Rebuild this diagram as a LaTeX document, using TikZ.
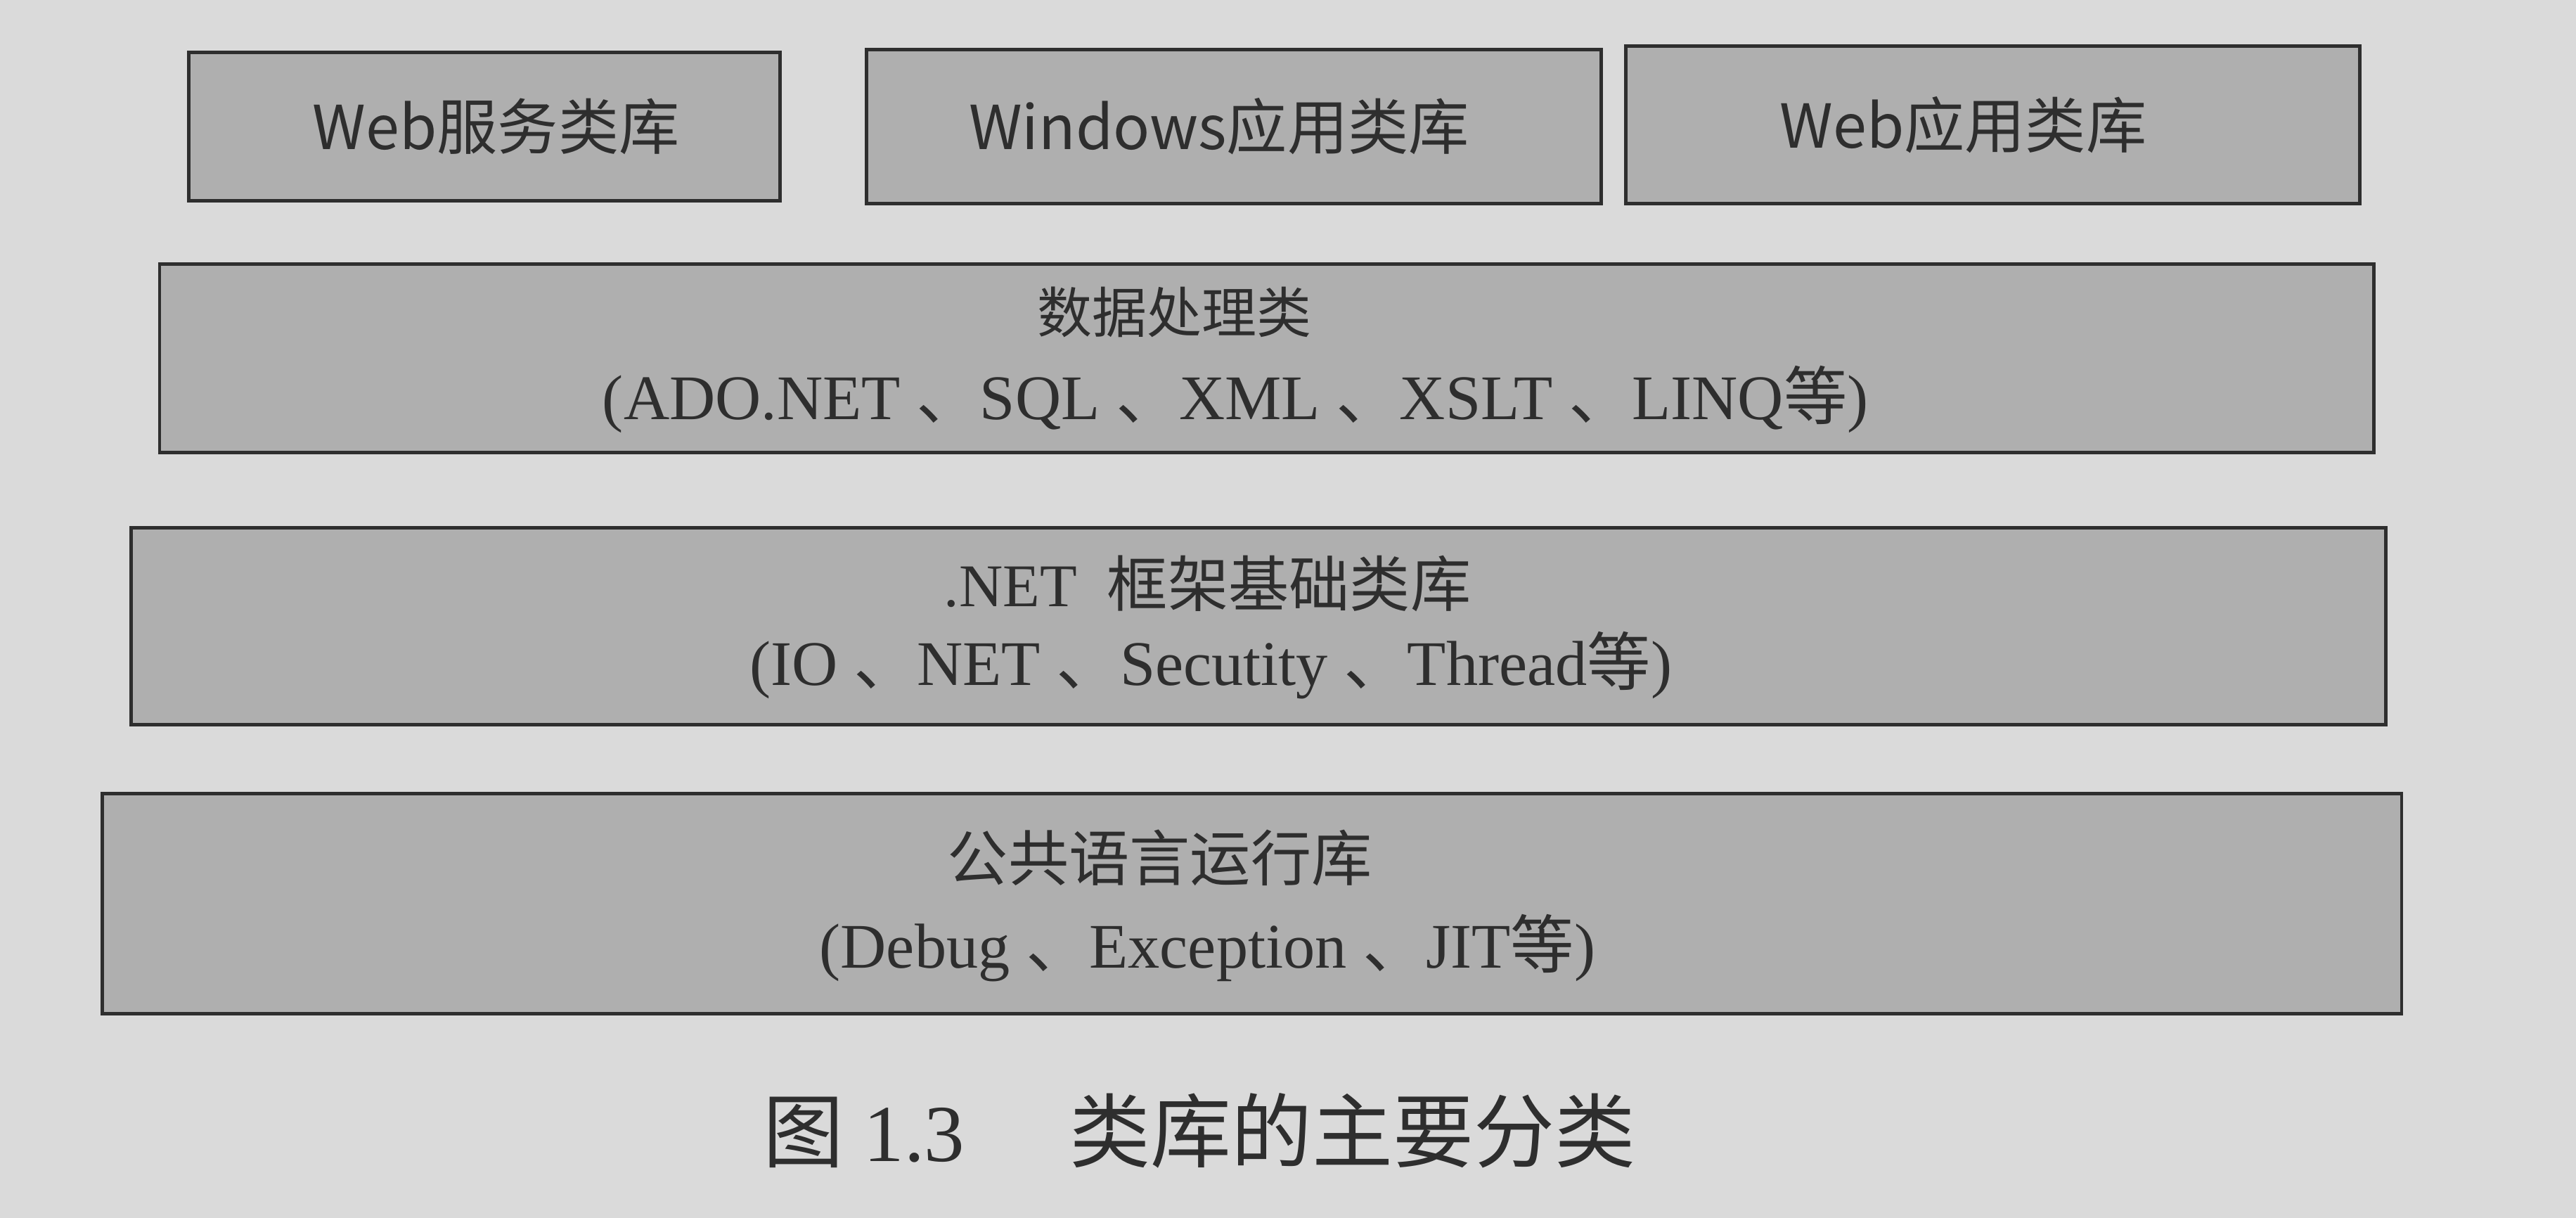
\documentclass[tikz,border=0pt]{standalone}
\usepackage{fontspec}
\setmainfont{Liberation Serif}
\newfontfamily\cjk{Noto Sans CJK SC}
\newcommand{\zh}[1]{{\cjk #1}}
\definecolor{paper}{HTML}{DADADA}
\definecolor{boxfill}{HTML}{AFAFAF}
\definecolor{ink}{HTML}{2E2E2E}
\begin{document}
\begin{tikzpicture}[x=0.02cm,y=-0.02cm,
  layer/.style={draw=ink,line width=1.2pt,fill=boxfill,rectangle,inner sep=0pt,text=ink},
  toplbl/.style={font=\fontsize{21}{24}\selectfont\cjk},
  ttl/.style={text=ink,inner sep=0pt,font=\fontsize{21}{24}\selectfont},
  sub/.style={text=ink,inner sep=0pt,font=\fontsize{22}{26}\selectfont}]
\fill[paper] (0,0) rectangle (1568,741);
\useasboundingbox (0,0) rectangle (1568,741);
% top row
\node[layer,minimum width=7.2cm,minimum height=1.8cm] (ws) at (295,77) {};
\node[toplbl,text=ink,inner sep=0pt] (wst) at (302,77) {Web服务类库};
\node[layer,minimum width=8.94cm,minimum height=1.88cm] (win) at (751,77) {};
\node[toplbl,text=ink,inner sep=0pt] (wint) at (742,77) {Windows应用类库};
\node[layer,minimum width=8.94cm,minimum height=1.92cm] (web) at (1213,76) {};
\node[toplbl,text=ink,inner sep=0pt] (webt) at (1195,76) {Web应用类库};
% layers
\node[layer,minimum width=26.96cm,minimum height=2.3cm] (data) at (771,218) {};
\node[ttl,font=\fontsize{19}{22}\selectfont] (datat) at (715,190) {\zh{数据处理类}};
\node[sub] (datas) at (752,243) {(ADO.NET \zh{、}SQL \zh{、}XML \zh{、}XSLT \zh{、}LINQ\zh{等})};
\node[layer,minimum width=27.46cm,minimum height=2.4cm] (net) at (766,381) {};
\node[ttl] (nett) at (735,355) {.NET\hspace{0.5em}\zh{框架基础类库}};
\node[sub] (nets) at (737,405) {(IO \zh{、}NET \zh{、}Secutity \zh{、}Thread\zh{等})};
\node[layer,minimum width=28cm,minimum height=2.68cm] (clr) at (762,550) {};
\node[ttl] (clrt) at (706,522) {\zh{公共语言运行库}};
\node[sub] (clrs) at (735,577) {(Debug \zh{、}Exception \zh{、}JIT\zh{等})};
% caption
\node[text=ink,inner sep=0pt,font=\fontsize{28}{32}\selectfont] (cap) at (730,688) {\zh{图} 1.3\hspace{1.3em}\zh{类库的主要分类}};
\end{tikzpicture}
\end{document}
